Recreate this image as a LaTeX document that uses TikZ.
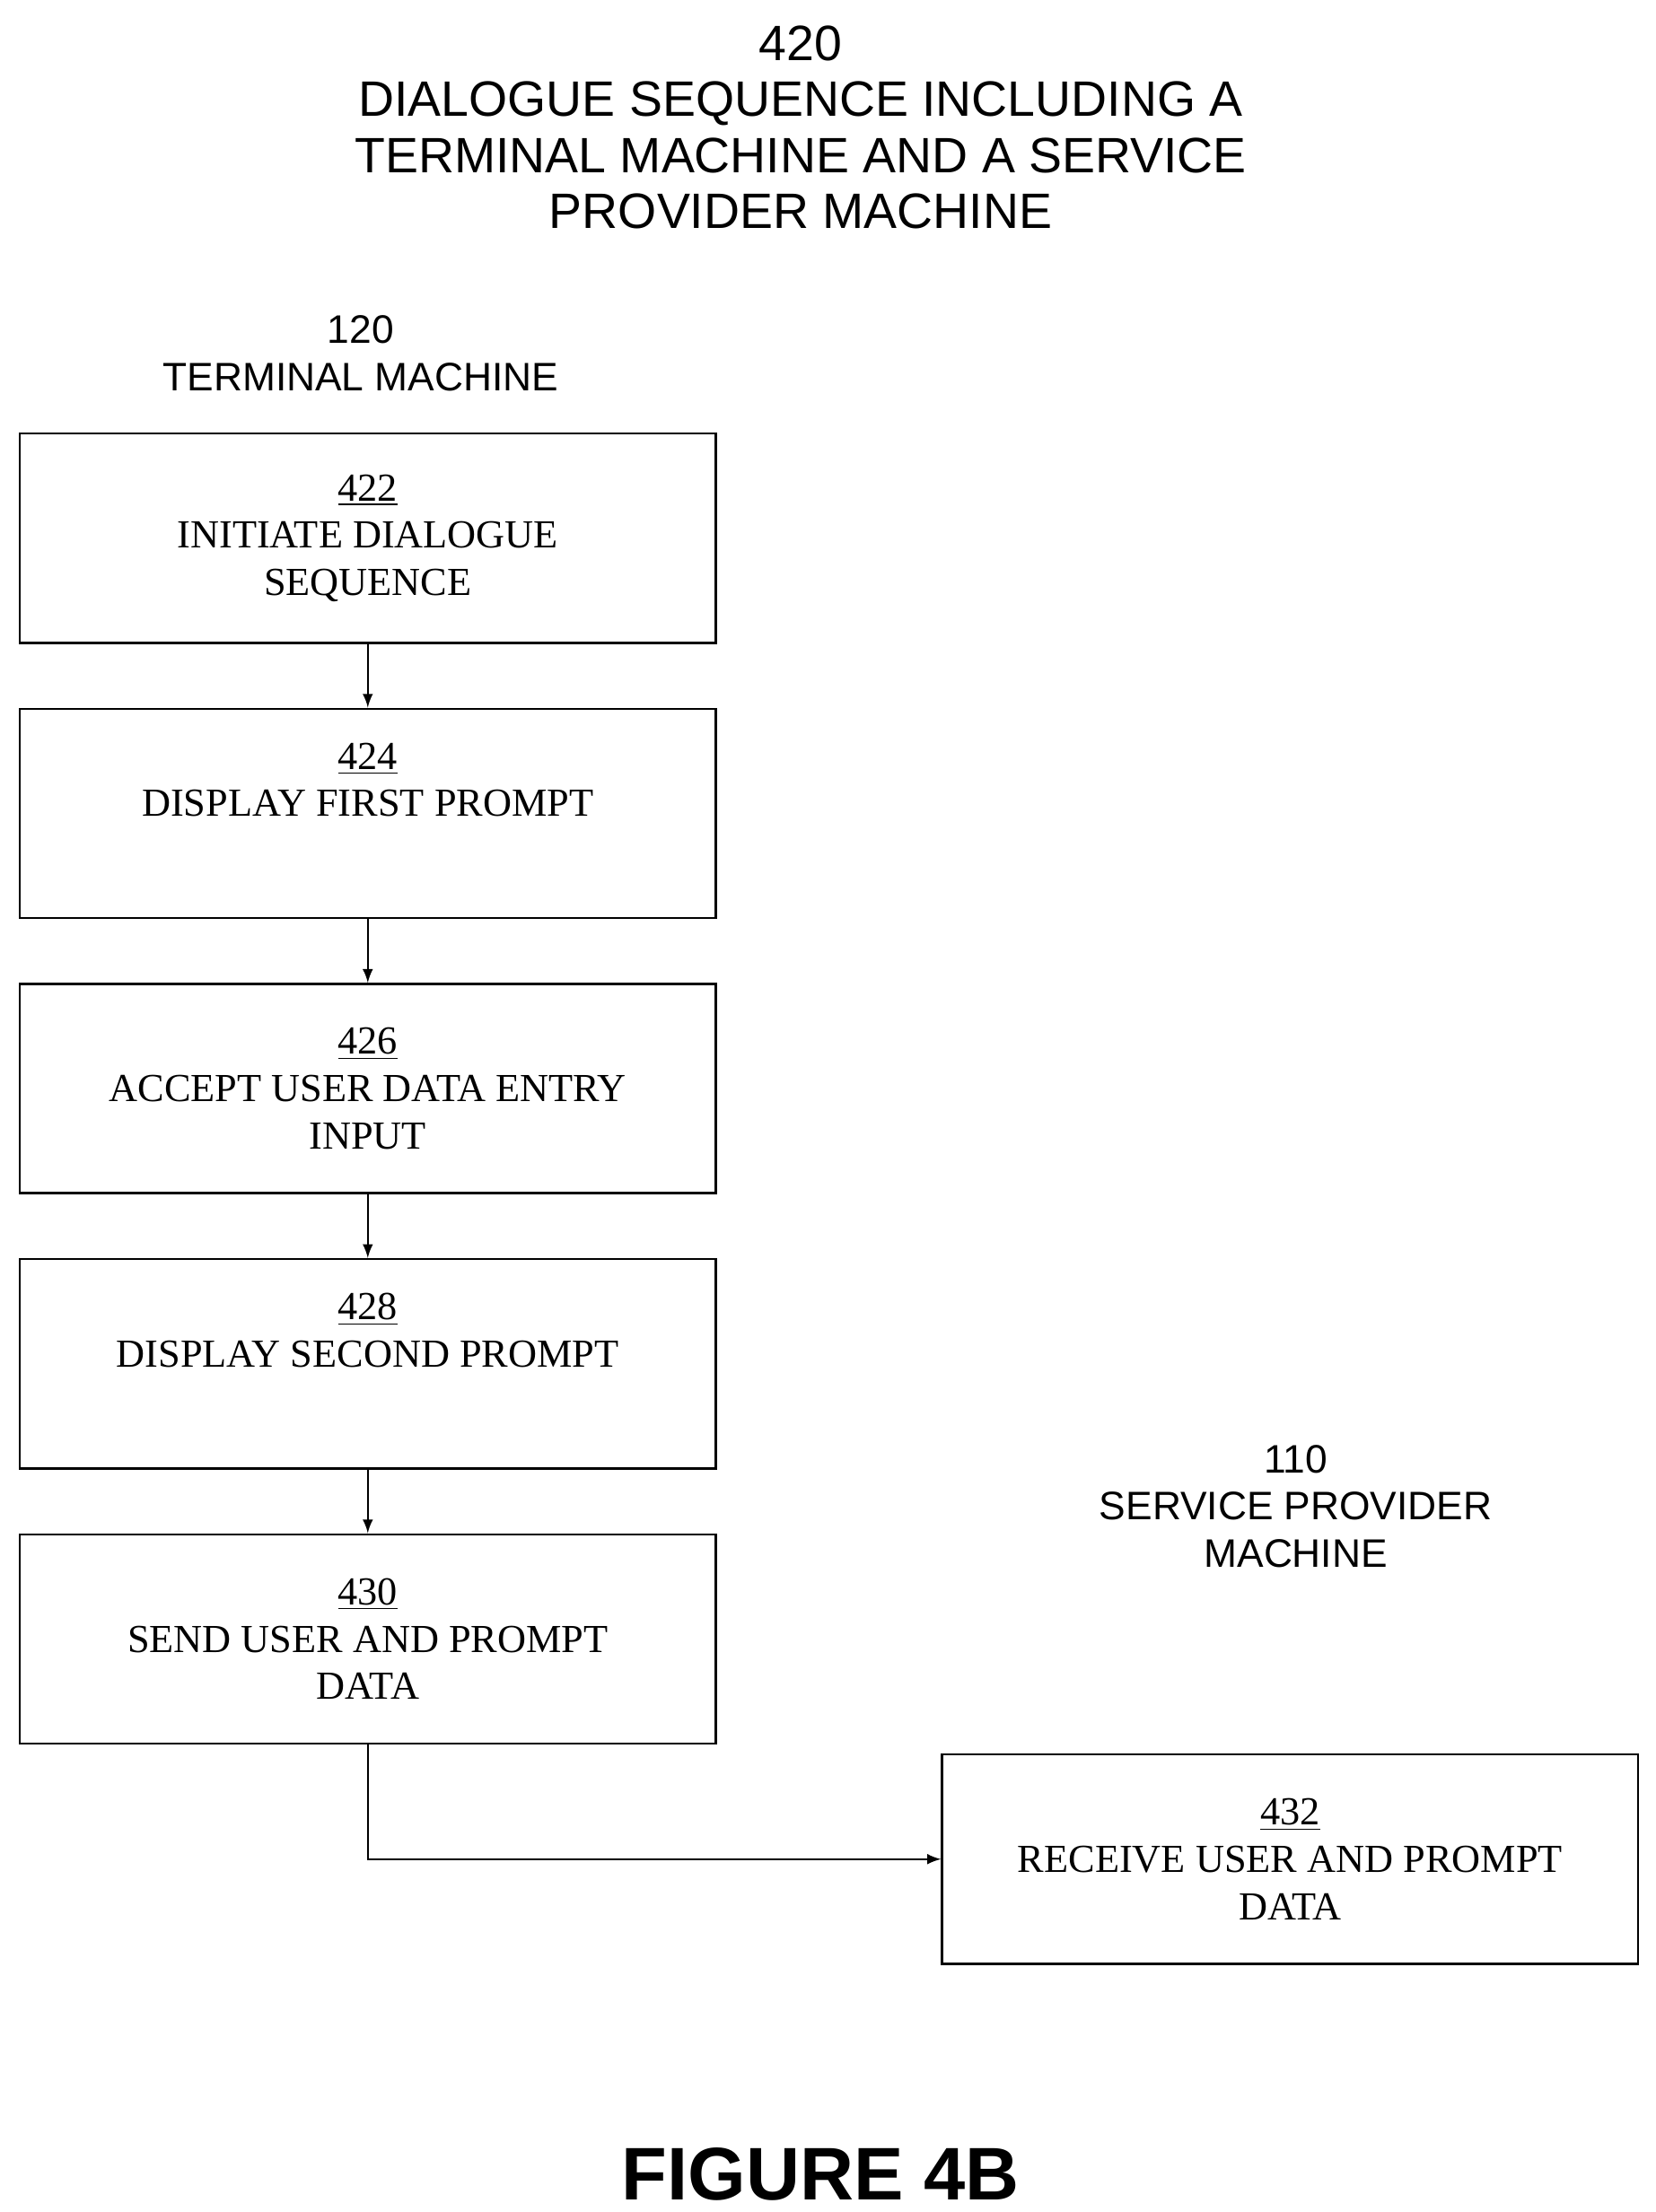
\documentclass[tikz,border=0pt]{standalone}
\usepackage{fontspec}
\setmainfont{Liberation Serif}
\newfontfamily\hdr{Liberation Sans}
\usetikzlibrary{positioning}
\usetikzlibrary{calc}

\begin{document}
\begin{tikzpicture}[
blk/.style={rectangle, draw=black, line width=0.9pt, fill=white, minimum width=9.84cm, minimum height=2.96cm, align=center, font=\fontsize{16}{19}\selectfont, inner sep=2pt},
hd/.style={align=center, font=\hdr\fontsize{16}{19}\selectfont},
flow/.style={->, line width=0.9pt, >=latex},]

\useasboundingbox (0,0) rectangle (23.4,-31.28);

\node[hd, font=\hdr\fontsize{20}{22.5}\selectfont] (title) at (11.32,-1.8)
  {420\\DIALOGUE SEQUENCE INCLUDING A\\TERMINAL MACHINE AND A SERVICE\\PROVIDER MACHINE};
\node[hd] (tm) at (5.1,-5.0) {120\\TERMINAL MACHINE};

\node[blk] (S422) at (5.2,-7.61) {\underline{422}\\INITIATE DIALOGUE\\SEQUENCE};
\node[blk] (S424) [below=0.9cm of S422] {\underline{424}\\DISPLAY FIRST PROMPT\\[0.5em]};
\node[blk] (S426) [below=0.9cm of S424] {\underline{426}\\ACCEPT USER DATA ENTRY\\INPUT};
\node[blk] (S428) [below=0.9cm of S426] {\underline{428}\\DISPLAY SECOND PROMPT\\[0.5em]};
\node[blk] (S430) [below=0.9cm of S428] {\underline{430}\\SEND USER AND PROMPT\\DATA};

\node[hd] (spm) at (18.32,-21.3) {110\\SERVICE PROVIDER\\MACHINE};
\node[blk] (S432) at (18.24,-26.29) {\underline{432}\\RECEIVE USER AND PROMPT\\DATA};

\draw[flow] (S422.south) -- (S424.north);
\draw[flow] (S424.south) -- (S426.north);
\draw[flow] (S426.south) -- (S428.north);
\draw[flow] (S428.south) -- (S430.north);
\draw[flow] (S430.south) |- (S432.west);

\node[font=\hdr\bfseries\fontsize{30}{34}\selectfont] (fig) at (11.6,-30.75) {FIGURE 4B};

\end{tikzpicture}
\end{document}
